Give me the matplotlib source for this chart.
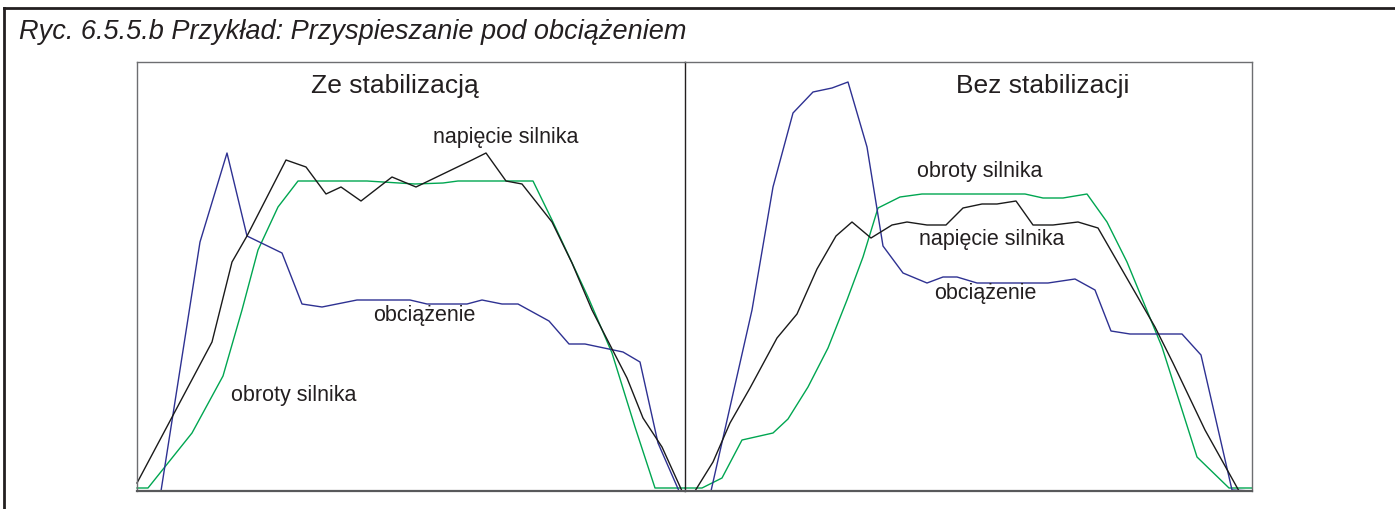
import matplotlib.pyplot as plt
from matplotlib.lines import Line2D

plt.rcParams['font.family'] = ['Liberation Sans', 'DejaVu Sans']

# kolory przebiegów
C_OBROTY = '#00a651'
C_NAPIECIE = '#1a1a1a'
C_OBCIAZENIE = '#2e3192'

# ==========================================
# Ze stabilizacją (czas, wartość)
# ==========================================
t_obroty_ze = [0, 11, 55, 86, 105, 121, 141, 161, 230, 278, 306, 321, 396, 415, 451, 475, 498, 518, 548]
obroty_ze = [3, 3, 58, 115, 181, 241, 284, 310, 310, 307, 308, 310, 310, 271, 194, 138, 64, 3, 3]

t_napiecie_ze = [0, 75, 95, 110, 149, 169, 189, 204, 224, 255, 279, 335, 349, 369, 385, 415, 435, 455,
                 490, 506, 525, 545, 548]
napiecie_ze = [8, 149, 229, 255, 331, 324, 297, 304, 290, 314, 304, 331, 338, 310, 307, 269, 228, 181,
               113, 73, 44, 0, 0]

t_obciazenie_ze = [0, 24, 63, 90, 110, 145, 165, 185, 220, 273, 290, 330, 345, 365, 381, 412, 432, 448,
                   486, 503, 521, 542, 548]
obciazenie_ze = [0, 0, 249, 338, 255, 238, 187, 184, 191, 191, 187, 187, 191, 187, 187, 170, 147, 147,
                 139, 129, 48, 0, 0]

# ==========================================
# Bez stabilizacji (czas, wartość)
# ==========================================
t_obroty_bez = [0, 17, 37, 57, 88, 103, 123, 143, 162, 178, 193, 215, 237, 340, 358, 378, 402, 422, 442,
                477, 512, 544, 567]
obroty_bez = [3, 3, 13, 51, 58, 72, 104, 143, 191, 234, 283, 294, 297, 297, 293, 293, 297, 269, 229,
              144, 34, 3, 3]

t_napiecie_bez = [0, 10, 28, 45, 65, 92, 112, 132, 151, 167, 186, 207, 222, 242, 261, 278, 297, 312, 331,
                  348, 368, 393, 413, 470, 488, 520, 554, 567]
napiecie_bez = [0, 0, 29, 68, 103, 153, 177, 222, 255, 269, 253, 266, 269, 266, 266, 283, 287, 287, 290,
                266, 266, 269, 263, 164, 128, 61, 0, 0]

t_obciazenie_bez = [0, 26, 67, 88, 108, 128, 147, 163, 182, 198, 218, 242, 258, 272, 292, 363, 390, 410,
                    426, 445, 497, 516, 547, 567]
obciazenie_bez = [0, 0, 181, 304, 378, 399, 403, 409, 344, 245, 218, 208, 214, 214, 208, 208, 212, 201,
                  160, 157, 157, 136, 1, 0]

W, H = 1395, 509
fig = plt.figure(figsize=(W / 100, H / 100), dpi=100)

# ramka ryciny
fig.add_artist(Line2D([4 / W, 1], [1 - 8 / H, 1 - 8 / H], color='#231f20', lw=2.0))
fig.add_artist(Line2D([4 / W, 4 / W], [0, 1 - 8 / H], color='#231f20', lw=2.0))

fig.text(19 / W, 1 - 32 / H, 'Ryc. 6.5.5.b Przykład: Przyspieszanie pod obciążeniem',
         fontsize=19.5, style='italic', color='#231f20', va='center', ha='left')

dol = 18 / H
wys = 429 / H
ax1 = fig.add_axes([137 / W, dol, 548 / W, wys])
ax2 = fig.add_axes([685 / W, dol, 567 / W, wys])

panele = [
    (ax1, 548, (t_obroty_ze, obroty_ze), (t_napiecie_ze, napiecie_ze), (t_obciazenie_ze, obciazenie_ze)),
    (ax2, 567, (t_obroty_bez, obroty_bez), (t_napiecie_bez, napiecie_bez), (t_obciazenie_bez, obciazenie_bez)),
]

for ax, szer, obr, nap, obc in panele:
    ax.patch.set_visible(False)
    ax.plot(*obr, color=C_OBROTY, lw=1.0, clip_on=False)
    ax.plot(*obc, color=C_OBCIAZENIE, lw=1.0, clip_on=False)
    ax.plot(*nap, color=C_NAPIECIE, lw=1.0, clip_on=False)
    ax.set_xlim(0, szer)
    ax.set_ylim(0, 429)
    ax.set_xticks([])
    ax.set_yticks([])
    for s in ax.spines.values():
        s.set_color('#6d6e71')
        s.set_linewidth(1.0)
    ax.spines['bottom'].set_color('#58595b')
    ax.spines['bottom'].set_linewidth(1.6)

# pionowa linia podziału między panelami
ax1.spines['right'].set_visible(False)
ax2.spines['left'].set_color('#231f20')

# opisy
ax1.text(258, 405, 'Ze stabilizacją', fontsize=19, ha='center', va='center', color='#231f20')
ax1.text(369, 353, 'napięcie silnika', fontsize=15.5, ha='center', va='center', color='#231f20')
ax1.text(287, 176, 'obciążenie', fontsize=15.5, ha='center', va='center', color='#231f20')
ax1.text(157, 95, 'obroty silnika', fontsize=15.5, ha='center', va='center', color='#231f20')

ax2.text(358, 405, 'Bez stabilizacji', fontsize=19, ha='center', va='center', color='#231f20')
ax2.text(295, 319, 'obroty silnika', fontsize=15.5, ha='center', va='center', color='#231f20')
ax2.text(307, 251, 'napięcie silnika', fontsize=15.5, ha='center', va='center', color='#231f20')
ax2.text(300, 197, 'obciążenie', fontsize=15.5, ha='center', va='center', color='#231f20')

fig.savefig('out.png', dpi=100)
